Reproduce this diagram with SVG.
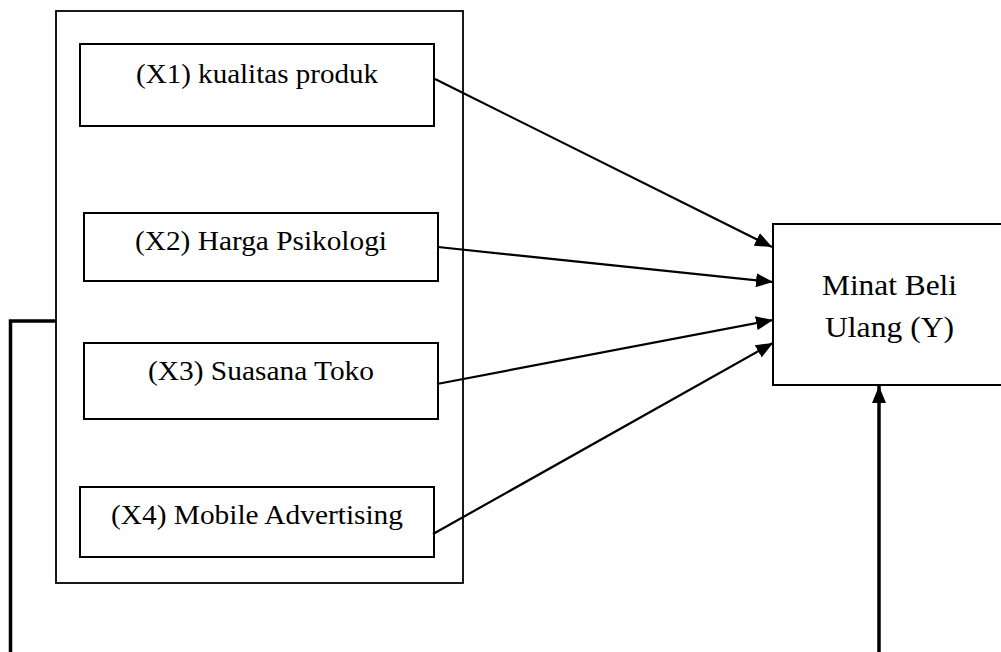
<svg xmlns="http://www.w3.org/2000/svg" width="1001" height="652" viewBox="0 0 1001 652">
<style>
.box{fill:#fff;stroke:#000;stroke-width:2}
.lbl{font-family:"Liberation Serif","Times New Roman",serif;font-size:27px;fill:#000;text-anchor:middle}
.lblY{font-family:"Liberation Serif","Times New Roman",serif;font-size:30px;fill:#000;text-anchor:middle}
.con{fill:none;stroke:#000;stroke-width:2.2}
.thick{fill:none;stroke:#000;stroke-width:3.5}
</style>
<defs>
<marker id="arr" markerUnits="userSpaceOnUse" markerWidth="18" markerHeight="14" refX="17" refY="7" orient="auto">
<path d="M0,0 L17,7 L0,14 Z" fill="#000"/>
</marker>
</defs>
<rect width="1001" height="652" fill="#fff"/>
<g id="group-x">
<rect class="box" x="56" y="11" width="407" height="572" style="stroke-width:1.8"/>
</g>
<g id="x1">
<rect class="box" x="80" y="44" width="354" height="82"/>
<text class="lbl" x="257" y="83" textLength="242" lengthAdjust="spacingAndGlyphs">(X1) kualitas produk</text>
</g>
<g id="x2">
<rect class="box" x="84" y="213" width="354" height="68"/>
<text class="lbl" x="261" y="250" textLength="252" lengthAdjust="spacingAndGlyphs">(X2) Harga Psikologi</text>
</g>
<g id="x3">
<rect class="box" x="84" y="343" width="354" height="76"/>
<text class="lbl" x="261" y="380" textLength="226" lengthAdjust="spacingAndGlyphs">(X3) Suasana Toko</text>
</g>
<g id="x4">
<rect class="box" x="80" y="487" width="354" height="70"/>
<text class="lbl" x="257" y="524" textLength="292" lengthAdjust="spacingAndGlyphs">(X4) Mobile Advertising</text>
</g>
<g id="y">
<rect class="box" x="773" y="224" width="240" height="161"/>
<text class="lblY" x="889.5" y="295" textLength="135" lengthAdjust="spacingAndGlyphs">Minat Beli</text>
<text class="lblY" x="889.5" y="337" textLength="129" lengthAdjust="spacingAndGlyphs">Ulang (Y)</text>
</g>
<g id="connectors">
<line class="con" x1="435" y1="79" x2="772" y2="247" marker-end="url(#arr)"/>
<line class="con" x1="438" y1="247" x2="773" y2="282" marker-end="url(#arr)"/>
<line class="con" x1="437" y1="384" x2="773" y2="320" marker-end="url(#arr)"/>
<line class="con" x1="433" y1="534" x2="773" y2="343" marker-end="url(#arr)"/>
<polyline class="thick" points="56,321 10.5,321 10.5,652"/>
<line class="thick" x1="879" y1="652" x2="879" y2="386" marker-end="url(#arr)"/>
</g>
</svg>
